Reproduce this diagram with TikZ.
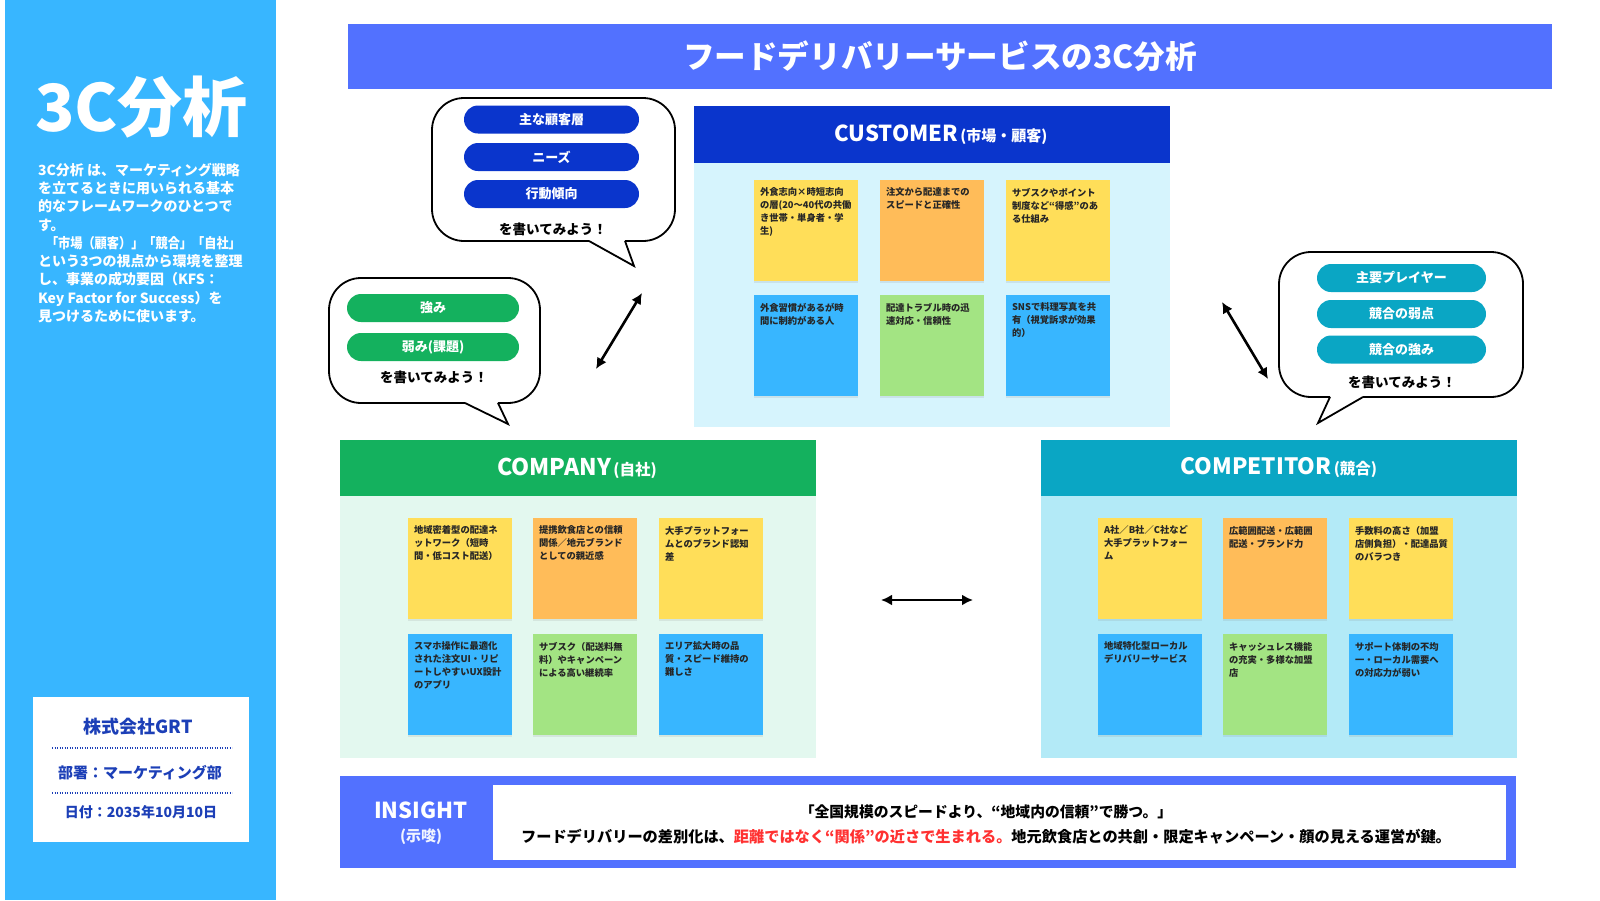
\documentclass[tikz,border=0pt]{standalone}
\usepackage{fontspec}
\usepackage{graphicx}
\setmainfont{Noto Sans CJK JP}
\usetikzlibrary{arrows.meta,shadows}
\definecolor{side}{HTML}{38B6FF}
\definecolor{titleblue}{HTML}{5271FF}
\definecolor{custhead}{HTML}{0A35CC}
\definecolor{custbody}{HTML}{D6F4FD}
\definecolor{comphead}{HTML}{14B15E}
\definecolor{compbody}{HTML}{E3F8EF}
\definecolor{comphd}{HTML}{0AA6C4}
\definecolor{compbd}{HTML}{B3EAF7}
\definecolor{nyel}{HTML}{FFDE59}
\definecolor{nora}{HTML}{FFBC59}
\definecolor{nblu}{HTML}{38B6FF}
\definecolor{ngrn}{HTML}{A3E483}
\definecolor{navytxt}{HTML}{1C3FB7}
\definecolor{hired}{HTML}{FF3131}
\newcommand\stickynote[5]{%
  \node[notebox,fill=#4] (#1) at (#2,#3) {};
  \node[notetext,xshift=6pt,yshift=-8pt] (#1t) at (#1.north west) {#5};}
\begin{document}
\begin{tikzpicture}[x=1pt,y=-1pt,
  every node/.style={inner sep=0pt, outer sep=0pt},
  notebox/.style={anchor=north west, minimum width=104, minimum height=101,
     drop shadow={shadow xshift=0pt,shadow yshift=-2pt,opacity=0.15}},
  notetext/.style={anchor=north west, align=left, text=black!85,
     font=\bfseries\fontsize{9.3}{13}\selectfont},
  pill/.style={rounded corners=14, minimum height=28, text=white,
     font=\bfseries\fontsize{13}{13}\selectfont},
  bubble/.style={draw=black, line width=1.8, fill=white, rounded corners=32, anchor=north west},
  tailside/.style={line width=1.8, line join=miter},
  askline/.style={font=\bfseries\fontsize{13.5}{13.5}\selectfont, text=black},
  dbl/.style={{Latex[length=11pt,width=11pt]}-{Latex[length=11pt,width=11pt]}, line width=2.6},
  cardhead/.style={anchor=north west, minimum width=476, minimum height=57},
  cardbody/.style={anchor=north west, minimum width=476},
  headtext/.style={text=white, font=\bfseries},
  dotline/.style={navytxt, line width=1.3, dash pattern=on 1.2pt off 1.3pt}
]
\useasboundingbox (0,0) rectangle (1600,900);
\fill[white] (0,0) rectangle (1600,900);

% sidebar
\node[fill=side, anchor=north west, minimum width=271, minimum height=900] (sidebar) at (5,0) {};
\node[anchor=west, text=white, font=\bfseries\fontsize{65}{65}\selectfont] (bigtitle) at (35,107) {3C分析};
\node[anchor=north west, align=left, text=white, font=\bfseries\fontsize{14}{18.25}\selectfont] (desc) at (38,163)
 {3C分析 は、マーケティング戦略\\
  を立てるときに用いられる基本\\
  的なフレームワークのひとつで\\
  す。\\
  \hspace*{8pt}\scalebox{0.87}[1]{「市場（顧客）」「競合」「自社」}\\
  という3つの視点から環境を整理\\
  し、事業の成功要因（KFS：\\
  Key Factor for Success）を\\
  見つけるために使います。};

\node[fill=white, anchor=north west, minimum width=216, minimum height=145] (corp) at (33,697) {};
\node[text=navytxt, font=\bfseries\fontsize{18}{18}\selectfont] (corpname) at (138,727) {株式会社GRT};
\draw[dotline] (52,748) -- (232,748);
\node[text=navytxt, font=\bfseries\fontsize{15}{15}\selectfont] (dept) at (140,773) {部署：マーケティング部};
\draw[dotline] (52,793) -- (232,793);
\node[text=navytxt, font=\bfseries\fontsize{14}{14}\selectfont] (date) at (141,812) {日付：2035年10月10日};

% title bar
\node[fill=titleblue, anchor=north west, minimum width=1204, minimum height=65] (titlebar) at (348,24) {};
\node[text=white, font=\bfseries\fontsize{31.6}{31.6}\selectfont] (title) at (940,56) {フードデリバリーサービスの3C分析};

% CUSTOMER card
\node[cardbody, fill=custbody, minimum height=264] (custbody) at (694,163) {};
\node[cardhead, fill=custhead] (custhead) at (694,106) {};
\node[headtext] (custtitle) at (941,135) {{\fontsize{22}{22}\selectfont CUSTOMER} {\fontsize{15}{15}\selectfont (市場・顧客)}};
\stickynote{c1}{754}{180}{nyel}{外食志向×時短志向\\の層(20〜40代の共働\\き世帯・単身者・学\\生)}
\stickynote{c2}{880}{180}{nora}{注文から配達までの\\スピードと正確性}
\stickynote{c3}{1006}{180}{nyel}{サブスクやポイント\\制度など“得感”のあ\\る仕組み}
\stickynote{c4}{754}{295}{nblu}{外食習慣があるが時\\間に制約がある人}
\stickynote{c5}{880}{295}{ngrn}{配達トラブル時の迅\\速対応・信頼性}
\stickynote{c6}{1006}{295}{nblu}{SNSで料理写真を共\\有（視覚訴求が効果\\的）}

% COMPANY card
\node[cardbody, fill=compbody, minimum height=262] (compbody) at (340,496) {};
\node[cardhead, fill=comphead, minimum height=56] (comphead) at (340,440) {};
\node[headtext] (comptitle) at (577,468) {{\fontsize{23}{23}\selectfont COMPANY} {\fontsize{15.5}{15.5}\selectfont (自社)}};
\stickynote{p1}{408}{518}{nyel}{地域密着型の配達ネ\\ットワーク（短時\\間・低コスト配送）}
\stickynote{p2}{533}{518}{nora}{提携飲食店との信頼\\関係／地元ブランド\\としての親近感}
\stickynote{p3}{659}{518}{nyel}{大手プラットフォー\\ムとのブランド認知\\差}
\stickynote{p4}{408}{634}{nblu}{スマホ操作に最適化\\された注文UI・リピ\\ートしやすいUX設計\\のアプリ}
\stickynote{p5}{533}{634}{ngrn}{サブスク（配送料無\\料）やキャンペーン\\による高い継続率}
\stickynote{p6}{659}{634}{nblu}{エリア拡大時の品\\質・スピード維持の\\難しさ}

% COMPETITOR card
\node[cardbody, fill=compbd, minimum height=262] (cpbody) at (1041,496) {};
\node[cardhead, fill=comphd, minimum height=56] (cphead) at (1041,440) {};
\node[headtext] (cptitle) at (1279,468) {{\fontsize{22.5}{22.5}\selectfont COMPETITOR} {\fontsize{15.5}{15.5}\selectfont (競合)}};
\stickynote{m1}{1098}{518}{nyel}{A社／B社／C社など\\大手プラットフォー\\ム}
\stickynote{m2}{1223}{518}{nora}{広範囲配送・広範囲\\配送・ブランド力}
\stickynote{m3}{1349}{518}{nyel}{手数料の高さ（加盟\\店側負担）・配達品質\\のバラつき}
\stickynote{m4}{1098}{634}{nblu}{地域特化型ローカル\\デリバリーサービス}
\stickynote{m5}{1223}{634}{ngrn}{キャッシュレス機能\\の充実・多様な加盟\\店}
\stickynote{m6}{1349}{634}{nblu}{サポート体制の不均\\一・ローカル需要へ\\の対応力が弱い}

% customer bubble
\node[bubble, minimum width=243, minimum height=143] (cbub) at (432,98) {};
\fill[white] (590,238.5) -- (624,238.5) -- (625,241) -- (634,266) -- (589,241) -- cycle;
\draw[tailside] (589,241) -- (634,266) -- (625,241);
\node[pill, fill=custhead, minimum width=175] (cp1) at (551.5,119.5) {主な顧客層};
\node[pill, fill=custhead, minimum width=175] (cp2) at (551.5,157) {ニーズ};
\node[pill, fill=custhead, minimum width=175] (cp3) at (551.5,194) {行動傾向};
\node[askline] (cask) at (553,229) {を書いてみよう！};

% company bubble
\node[bubble, minimum width=211, minimum height=125] (pbub) at (329,278) {};
\fill[white] (466,400.5) -- (497,400.5) -- (498,403) -- (508,424) -- (465,403) -- cycle;
\draw[tailside] (465,403) -- (508,424) -- (498,403);
\node[pill, fill=comphead, minimum width=172] (pp1) at (433,308) {強み};
\node[pill, fill=comphead, minimum width=172] (pp2) at (433,347) {弱み(課題)};
\node[askline] (pask) at (434,377) {を書いてみよう！};

% competitor bubble
\node[bubble, minimum width=244, minimum height=145] (mbub) at (1279,252) {};
\fill[white] (1331,394.5) -- (1362,394.5) -- (1363,397) -- (1318,423) -- (1330,397) -- cycle;
\draw[tailside] (1330,397) -- (1318,423) -- (1363,397);
\node[pill, fill=comphd, minimum width=169] (mp1) at (1401.5,278) {主要プレイヤー};
\node[pill, fill=comphd, minimum width=169] (mp2) at (1401.5,314) {競合の弱点};
\node[pill, fill=comphd, minimum width=169] (mp3) at (1401.5,349.5) {競合の強み};
\node[askline] (mask) at (1402,382) {を書いてみよう！};

% arrows
\coordinate (a1s) at (642,293); \coordinate (a1e) at (596,369);
\coordinate (a2s) at (1222,302); \coordinate (a2e) at (1268,379);
\coordinate (a3s) at (881,600); \coordinate (a3e) at (973,600);
\draw[dbl] (a1s) -- (a1e);
\draw[dbl] (a2s) -- (a2e);
\draw[dbl] (a3s) -- (a3e);

% insight
\node[fill=titleblue, anchor=north west, minimum width=1176, minimum height=92] (insight) at (340,776) {};
\node[fill=white, anchor=north west, minimum width=1013, minimum height=75] (insightpanel) at (493,785) {};
\node[text=white, font=\bfseries\fontsize{22}{22}\selectfont] (insttl) at (421,810) {INSIGHT};
\node[text=white!92!titleblue, font=\bfseries\fontsize{15}{15}\selectfont] (instsub) at (421,837) {(示唆)};
\node[font=\bfseries\fontsize{14.8}{14.8}\selectfont] (ins1) at (986,812) {「全国規模のスピードより、“地域内の信頼”で勝つ。」};
\node[font=\bfseries\fontsize{15.2}{15.2}\selectfont] (ins2) at (986,837) {フードデリバリーの差別化は、\textcolor{hired}{距離ではなく“関係”の近さで生まれる。}地元飲食店との共創・限定キャンペーン・顔の見える運営が鍵。};
\end{tikzpicture}
\end{document}
